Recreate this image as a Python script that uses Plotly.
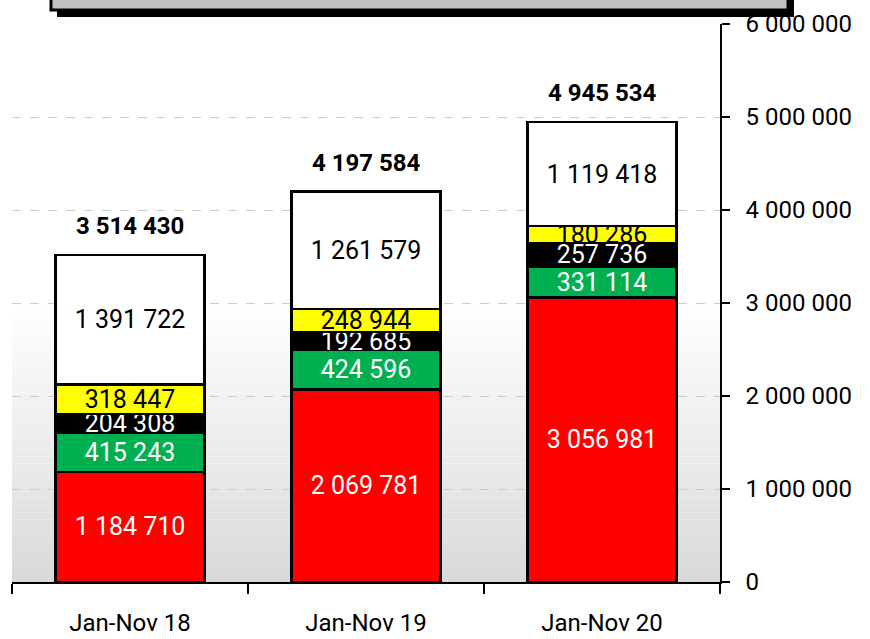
import plotly.graph_objects as go

categories = ["Jan-Nov 18", "Jan-Nov 19", "Jan-Nov 20"]
red_vals = [1184710, 2069781, 3056981]
green_vals = [415243, 424596, 331114]
black_vals = [204308, 192685, 257736]
yellow_vals = [318447, 248944, 180286]
white_vals = [1391722, 1261579, 1119418]
totals = [3514430, 4197584, 4945534]
y_ticks = [0, 1000000, 2000000, 3000000, 4000000, 5000000, 6000000]

FONT = "Roboto, Liberation Sans, sans-serif"

W, H = 870, 639
ML, MR, MT, MB = 12, 150, 24, 57
PW, PH = W - ML - MR, H - MT - MB


def px_x(px):
    return (px - ML) / PW


def px_y(py):
    return (H - MB - py) / PH


series = [
    ("red", red_vals, "#FF0000", "white"),
    ("green", green_vals, "#00B050", "white"),
    ("black", black_vals, "#000000", "white"),
    ("yellow", yellow_vals, "#FFFF00", "black"),
    ("white", white_vals, "#FFFFFF", "black"),
]

fig = go.Figure()
for name, vals, col, tcol in series:
    fig.add_trace(go.Bar(
        x=categories, y=vals, name=name,
        marker=dict(color=col, line=dict(color="black", width=2.5)),
        texttemplate="%{y:,}", textposition="inside",
        insidetextanchor="middle", textangle=0, constraintext="none",
        textfont=dict(family=FONT, size=25, color=tcol),
        hoverinfo="skip",
    ))

for c, t in zip(categories, totals):
    fig.add_annotation(x=c, y=t, text="<b>" + f"{t:,}".replace(",", " ") + "</b>",
                       showarrow=False, yanchor="middle", yshift=29,
                       font=dict(family=FONT, size=24, color="black"))

shapes = []
# background gradient (lower half of plot area)
n = 40
for i in range(n):
    y0 = 0.5 * i / n
    y1 = 0.5 * (i + 1) / n
    f = (i + 0.5) / n
    v = int(round(217 + (255 - 217) * f))
    shapes.append(dict(type="rect", xref="paper", yref="paper", x0=0, x1=1,
                       y0=y0, y1=y1, fillcolor=f"rgb({v},{v},{v})",
                       line=dict(width=0), layer="below"))
# title box with shadow
shapes.append(dict(type="rect", xref="paper", yref="paper",
                   x0=px_x(57), x1=px_x(794), y0=px_y(17), y1=px_y(-30),
                   fillcolor="black", line=dict(width=0), layer="above"))
shapes.append(dict(type="rect", xref="paper", yref="paper",
                   x0=px_x(51), x1=px_x(788), y0=px_y(10), y1=px_y(-30),
                   fillcolor="#C0C0C0", line=dict(color="black", width=3), layer="above"))

fig.update_layout(
    width=W, height=H,
    margin=dict(l=ML, r=MR, t=MT, b=MB, autoexpand=False),
    barmode="stack", bargap=0.37,
    showlegend=False,
    paper_bgcolor="white", plot_bgcolor="white",
    separators=". ",
    font=dict(family=FONT, size=24, color="black"),
    shapes=shapes,
    xaxis=dict(
        showline=True, linecolor="black", linewidth=1.5,
        ticks="outside", tickson="boundaries", ticklen=10, tickcolor="black", tickwidth=1.5,
        tickfont=dict(family=FONT, size=24, color="black"),
        ticklabelstandoff=18,
        showgrid=False, fixedrange=True, automargin=False,
    ),
    yaxis=dict(
        side="right", range=[0, 6000000], tickvals=y_ticks,
        tickformat=",", showline=True, linecolor="black", linewidth=1.5,
        ticks="outside", ticklen=8, tickcolor="black", tickwidth=1.5,
        tickfont=dict(family=FONT, size=24, color="black"),
        ticklabelstandoff=11,
        showgrid=True, gridcolor="#CCCCCC", gridwidth=1, griddash="dash",
        zeroline=False, fixedrange=True, automargin=False,
    ),
)

fig.write_html("out.html", config={"displayModeBar": False},
               post_script="document.body.style.margin='0';")
